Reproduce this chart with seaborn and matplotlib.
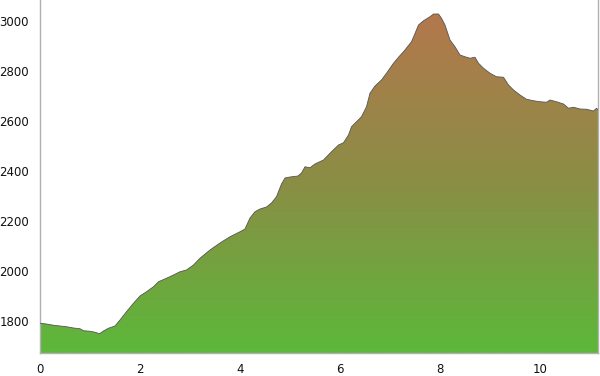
import numpy as np
import pandas as pd
import matplotlib
matplotlib.use("Agg")
import matplotlib.pyplot as plt
import seaborn as sns
from matplotlib.colors import LinearSegmentedColormap
from matplotlib.patches import PathPatch

distance_km = [0.0, 0.13, 0.27, 0.4, 0.53, 0.67, 0.8, 0.87, 1.0, 1.1, 1.19, 1.27, 1.37, 1.5,
               1.6, 1.73, 1.87, 2.0, 2.13, 2.27, 2.37, 2.53, 2.67, 2.8, 2.93, 3.07, 3.2,
               3.4, 3.6, 3.8, 4.0, 4.1, 4.2, 4.3, 4.4, 4.53, 4.63, 4.73, 4.83, 4.9, 5.0,
               5.16, 5.23, 5.3, 5.4, 5.5, 5.67, 5.83, 5.97, 6.07, 6.17, 6.23, 6.33, 6.43,
               6.53, 6.6, 6.7, 6.83, 6.93, 7.07, 7.17, 7.27, 7.43, 7.5, 7.57, 7.67, 7.8,
               7.87, 7.97, 8.03, 8.1, 8.2, 8.3, 8.4, 8.5, 8.6, 8.7, 8.77, 8.87, 9.0, 9.13,
               9.27, 9.37, 9.47, 9.6, 9.73, 9.87, 10.0, 10.13, 10.2, 10.33, 10.47, 10.57,
               10.67, 10.8, 10.93, 11.07, 11.13, 11.16]
elevation_m = [1791, 1788, 1783, 1780, 1777, 1772, 1769, 1761, 1759, 1755, 1749, 1760, 1771, 1780,
               1804, 1837, 1871, 1900, 1917, 1937, 1957, 1971, 1984, 1997, 2004, 2024, 2051,
               2084, 2112, 2137, 2157, 2168, 2212, 2237, 2248, 2256, 2272, 2297, 2348, 2372, 2376,
               2380, 2392, 2417, 2413, 2428, 2444, 2477, 2504, 2513, 2544, 2577, 2597, 2617,
               2657, 2711, 2740, 2764, 2791, 2831, 2855, 2877, 2917, 2950, 2984, 3001, 3017,
               3028, 3028, 3011, 2984, 2924, 2897, 2864, 2857, 2851, 2855, 2831, 2811, 2791, 2777,
               2775, 2744, 2724, 2704, 2687, 2681, 2677, 2675, 2684, 2677, 2668, 2651,
               2655, 2648, 2647, 2640, 2651, 2645]
x_ticks = [0, 2, 4, 6, 8, 10]
y_ticks = [1800, 2000, 2200, 2400, 2600, 2800, 3000]

df = pd.DataFrame({"distance": distance_km, "elevation": elevation_m})

sns.set_style("white")
plt.rcParams['font.family'] = ['DejaVu Sans']

fig = plt.figure(figsize=(6.0, 3.76), dpi=100)
ax = fig.add_axes([40/600, 1 - 353/376, 558/600, 353/376])

ymin, ymax = 1672, 3084
xmin, xmax = 0, 11.16

cmap = LinearSegmentedColormap.from_list("elev", ["#5cb83a", "#8a8e45", "#b3784c"])
fill = ax.fill_between(df["distance"], df["elevation"], ymin, color="none", lw=0)
top = max(elevation_m)
grad = np.linspace(0, 1, 256).reshape(-1, 1)
im = ax.imshow(grad, cmap=cmap, origin="lower", aspect="auto",
               extent=[xmin, xmax, ymin, top], zorder=1)
clip = PathPatch(fill.get_paths()[0], transform=ax.transData, facecolor="none", edgecolor="none")
ax.add_patch(clip)
im.set_clip_path(clip)

sns.lineplot(data=df, x="distance", y="elevation", ax=ax, color="#555555", lw=0.6, zorder=3)

ax.set_xlim(xmin, xmax)
ax.set_ylim(ymin, ymax)
ax.set_xticks(x_ticks)
ax.set_yticks(y_ticks)
ax.set_xlabel("")
ax.set_ylabel("")
ax.spines["top"].set_visible(False)
for s in ["left", "bottom", "right"]:
    ax.spines[s].set_color("#b0b0b0")
    ax.spines[s].set_linewidth(1.0)
ax.tick_params(axis="both", which="both", length=6, width=1, color="#b0b0b0",
               labelsize=8.5, labelcolor="#111111", pad=2)
ax.tick_params(axis="x", pad=1.5)

fig.savefig("out.png", dpi=100)
